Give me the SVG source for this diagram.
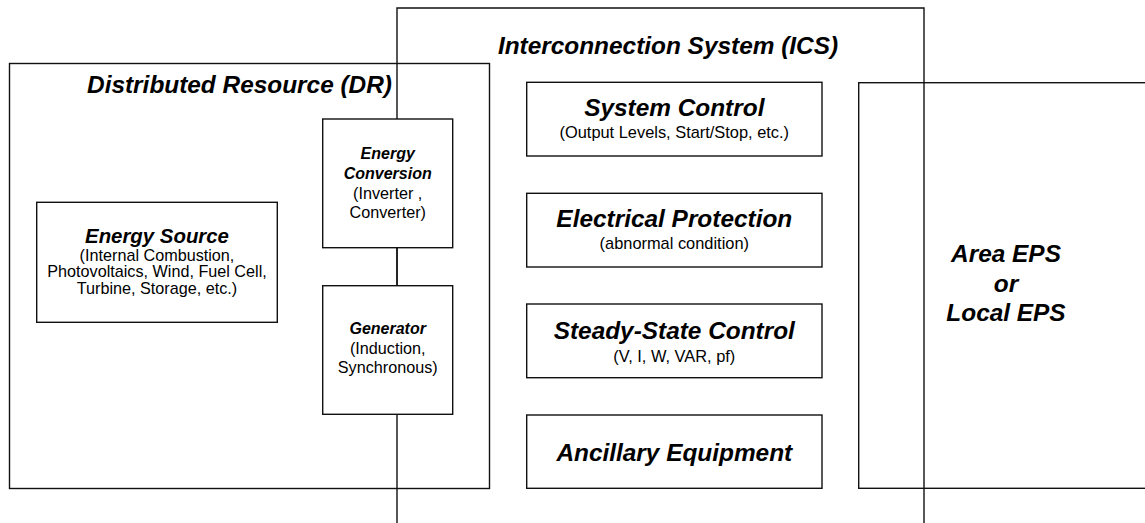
<svg xmlns="http://www.w3.org/2000/svg" width="1145" height="523" viewBox="0 0 1145 523">
<style>
.frame{fill:none;stroke:#111;stroke-width:1.4}
.box{fill:#fff;stroke:#111;stroke-width:1.4}
.ln{fill:none;stroke:#111;stroke-width:1.4}
text{font-family:"Liberation Sans",Arial,Helvetica,sans-serif;fill:#000;text-anchor:middle}
.big{font-size:24.4px;font-weight:bold;font-style:italic}
.mid{font-size:20.4px;font-weight:bold;font-style:italic}
.sm{font-size:16px;font-weight:bold;font-style:italic}
.sub{font-size:16.4px}
.sub16{font-size:16.2px}
</style>
<rect width="1145" height="523" fill="#fff"/>
<g id="dr">
<rect class="frame" x="9.5" y="63.5" width="480" height="425"/>
<text class="big" x="239.5" y="93.3">Distributed Resource (DR)</text>
</g>
<g id="ics">
<path class="frame" d="M397,523 V8 H924 V523"/>
<text class="big" x="668" y="54">Interconnection System (ICS)</text>
</g>
<g id="area-eps">
<rect class="frame" x="858.7" y="82.7" width="320" height="405.6"/>
<text class="big" x="1006" y="262.3">Area EPS</text>
<text class="big" x="1006" y="291.7">or</text>
<text class="big" x="1006" y="321">Local EPS</text>
</g>
<g id="connectors">
<line class="ln" x1="397" y1="247.7" x2="397" y2="285.7"/>
</g>
<g id="energy-source">
<rect class="box" x="36.7" y="202.3" width="240.6" height="120"/>
<text class="mid" x="157" y="243">Energy Source</text>
<text class="sub16" x="157" y="260.7">(Internal Combustion,</text>
<text class="sub16" x="157" y="277.2">Photovoltaics, Wind, Fuel Cell,</text>
<text class="sub16" x="157" y="293.5">Turbine, Storage, etc.)</text>
</g>
<g id="energy-conversion">
<rect class="box" x="322.7" y="119" width="130" height="128.7"/>
<text class="sm" x="387.7" y="159">Energy</text>
<text class="sm" x="387.7" y="179">Conversion</text>
<text class="sub16" x="387.7" y="198.5">(Inverter ,</text>
<text class="sub16" x="387.7" y="218">Converter)</text>
</g>
<g id="generator">
<rect class="box" x="322.7" y="285.7" width="130" height="128.6"/>
<text class="sm" x="387.7" y="334.2">Generator</text>
<text class="sub16" x="387.7" y="354">(Induction,</text>
<text class="sub16" x="387.7" y="373">Synchronous)</text>
</g>
<g id="system-control">
<rect class="box" x="526.7" y="82.3" width="295.3" height="73.7"/>
<text class="big" x="674.3" y="116">System Control</text>
<text class="sub" x="674.3" y="138.3">(Output Levels, Start/Stop, etc.)</text>
</g>
<g id="electrical-protection">
<rect class="box" x="526.7" y="193.3" width="295.3" height="73.7"/>
<text class="big" x="674.3" y="226.8">Electrical Protection</text>
<text class="sub" x="674.3" y="248.6">(abnormal condition)</text>
</g>
<g id="steady-state-control">
<rect class="box" x="526.7" y="304" width="295.3" height="73.7"/>
<text class="big" x="674.3" y="339">Steady-State Control</text>
<text class="sub" x="674.3" y="361.5">(V, I, W, VAR, pf)</text>
</g>
<g id="ancillary-equipment">
<rect class="box" x="526.7" y="415" width="295.3" height="73.3"/>
<text class="big" x="674.3" y="460.5">Ancillary Equipment</text>
</g>
</svg>
